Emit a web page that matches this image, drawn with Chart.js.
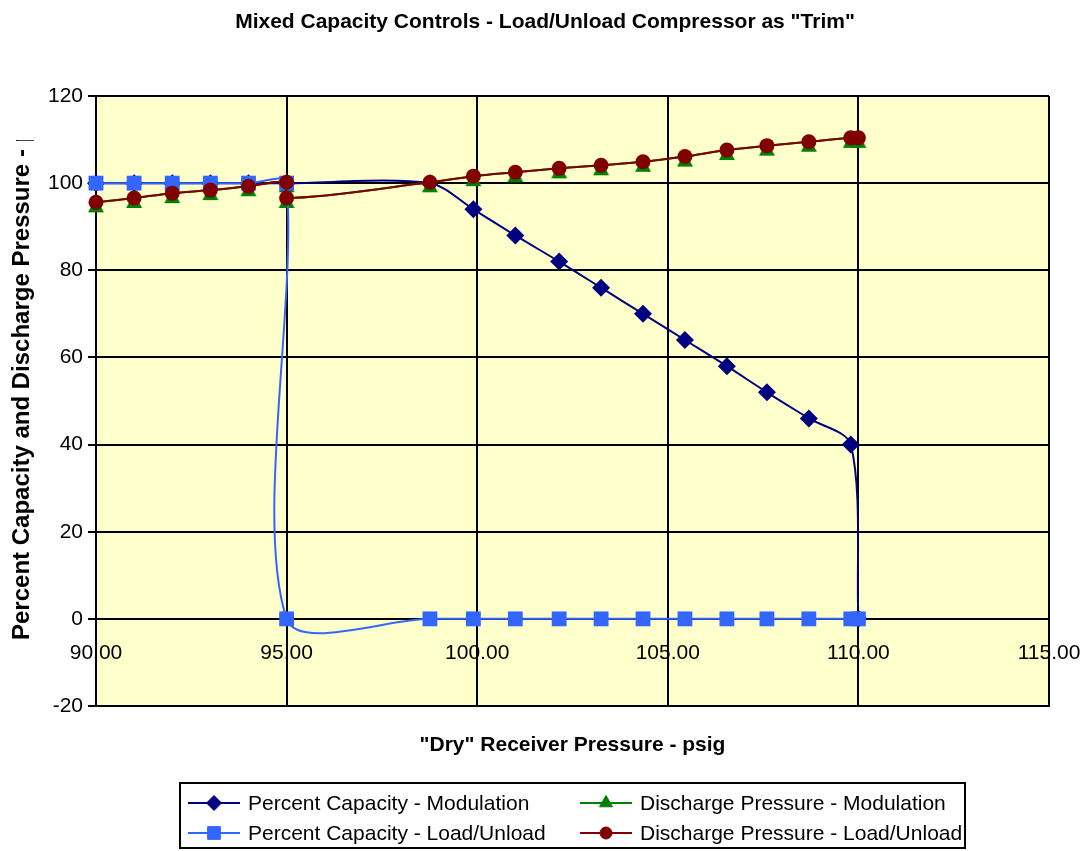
<!DOCTYPE html>
<html>
<head>
<meta charset="utf-8">
<script src="https://cdn.jsdelivr.net/npm/chart.js@4.4.1/dist/chart.umd.min.js"></script>
<style>
  html, body { margin: 0; padding: 0; background: #fff; }
</style>
</head>
<body>
<canvas id="trim-chart" width="1083" height="851"></canvas>
<script>
// x values (receiver pressure, psig)
const modCapX = [90, 91, 92, 93, 94, 95, 98.76, 99.9, 101.0, 102.15, 103.25, 104.35, 105.45, 106.55, 107.6, 108.7, 109.8, 110.0];
const pressureX = [90, 91, 92, 93, 94, 95, 95, 98.76, 99.9, 101.0, 102.15, 103.25, 104.35, 105.45, 106.55, 107.6, 108.7, 109.8, 110.0];

// series values
const modCapacity = [100, 100, 100, 100, 100, 100, 100, 94, 88, 82, 76, 70, 64, 58, 52, 46, 40, 0];
const luCapacity = [100, 100, 100, 100, 100, 100, 0, 0, 0, 0, 0, 0, 0, 0, 0, 0, 0, 0, 0];
const modDischarge = [95.6, 96.6, 97.7, 98.4, 99.3, 100.2, 96.6, 100.2, 101.6, 102.5, 103.4, 104.1, 104.9, 106.1, 107.6, 108.6, 109.5, 110.4, 110.4];
const luDischarge = [95.6, 96.6, 97.7, 98.4, 99.3, 100.2, 96.6, 100.2, 101.6, 102.5, 103.4, 104.1, 104.9, 106.1, 107.6, 108.6, 109.5, 110.4, 110.4];

// axis ticks
const xTicks = [90, 95, 100, 105, 110, 115];
const yTicks = [-20, 0, 20, 40, 60, 80, 100, 120];

const chartTitle = 'Mixed Capacity Controls - Load/Unload Compressor as "Trim"';
const xTitle = '"Dry" Receiver Pressure - psig';
const yTitle = 'Percent Capacity and Discharge Pressure - psig';

const FONT = "Arial, 'Liberation Sans', sans-serif";
Chart.defaults.font.family = FONT;
Chart.defaults.font.size = 21;
Chart.defaults.color = '#000';

function pts(xs, ys) {
  return xs.map((x, i) => ({ x: x, y: ys[i] }));
}

// Excel style triangle: sits low, so its base peeks out under the circles
function lowTriangle(color) {
  const c = document.createElement('canvas');
  c.width = 18;
  c.height = 26;
  const g = c.getContext('2d');
  g.fillStyle = color;
  g.beginPath();
  g.moveTo(9, 8);
  g.lineTo(17, 23);
  g.lineTo(1, 23);
  g.closePath();
  g.fill();
  return c;
}

const series = [
  { label: 'Percent Capacity - Modulation', xs: modCapX, ys: modCapacity, color: '#000080', style: 'rectRot', r: 9, order: 4 },
  { label: 'Discharge Pressure - Modulation', xs: pressureX, ys: modDischarge, color: '#008000', style: 'triangle', r: 9, order: 3 },
  { label: 'Percent Capacity - Load/Unload', xs: pressureX, ys: luCapacity, color: '#3366FF', style: 'rect', r: 10.5, order: 2 },
  { label: 'Discharge Pressure - Load/Unload', xs: pressureX, ys: luDischarge, color: '#800000', style: 'circle', r: 7.5, order: 1 }
];

// plot background + page background
const plotBg = {
  id: 'plotBg',
  beforeDraw(chart) {
    const { ctx, chartArea: a } = chart;
    ctx.save();
    ctx.fillStyle = '#fff';
    ctx.fillRect(0, 0, chart.width, chart.height);
    ctx.fillStyle = '#FFFFCC';
    ctx.fillRect(a.left, a.top, a.right - a.left, a.bottom - a.top);
    ctx.restore();
  }
};

// y title, cut off at the top like the original
const yTitlePlugin = {
  id: 'yTitlePlugin',
  afterDraw(chart) {
    const ctx = chart.ctx;
    ctx.save();
    ctx.beginPath();
    ctx.rect(0, 140, 60, chart.height - 140);
    ctx.clip();
    ctx.translate(22, 640);
    ctx.rotate(-Math.PI / 2);
    ctx.font = 'bold 24px ' + FONT;
    ctx.fillStyle = '#000';
    ctx.textAlign = 'left';
    ctx.textBaseline = 'middle';
    ctx.fillText(yTitle, 0, 0);
    ctx.restore();
  }
};

// boxed 2x2 legend
function marker(ctx, s, x, y) {
  if (Chart.helpers && Chart.helpers.drawPoint) {
    ctx.fillStyle = s.color;
    ctx.strokeStyle = s.color;
    ctx.lineWidth = 1;
    Chart.helpers.drawPoint(ctx, { pointStyle: s.style, rotation: 0, radius: s.r - 1.5, borderWidth: 1 }, x, y);
  }
}
const boxLegend = {
  id: 'boxLegend',
  afterDraw(chart) {
    const ctx = chart.ctx;
    ctx.save();
    ctx.strokeStyle = '#000';
    ctx.lineWidth = 2;
    ctx.strokeRect(180, 783, 785, 65);
    const cols = [188, 580];
    const rows = [803, 833];
    const place = [[0, 0], [1, 0], [0, 1], [1, 1]];
    series.forEach((s, i) => {
      const x0 = cols[place[i][0]];
      const y0 = rows[place[i][1]];
      ctx.strokeStyle = s.color;
      ctx.lineWidth = 2;
      ctx.beginPath();
      ctx.moveTo(x0, y0);
      ctx.lineTo(x0 + 52, y0);
      ctx.stroke();
      marker(ctx, s, x0 + 26, y0);
      ctx.fillStyle = '#000';
      ctx.font = '21px ' + FONT;
      ctx.textAlign = 'left';
      ctx.textBaseline = 'middle';
      ctx.fillText(s.label, x0 + 60, y0 + 1);
    });
    ctx.restore();
  }
};

const ctx = document.getElementById('trim-chart').getContext('2d');
const trimChart = new Chart(ctx, {
  type: 'scatter',
  data: {
    datasets: series.map(s => ({
      label: s.label,
      data: pts(s.xs, s.ys),
      showLine: true,
      borderColor: s.color,
      backgroundColor: s.color,
      borderWidth: 2,
      tension: 0.3,
      pointStyle: s.style === 'triangle' ? lowTriangle(s.color) : s.style,
      pointRadius: s.r,
      pointBorderWidth: 0,
      pointBackgroundColor: s.color,
      order: s.order,
      clip: false
    }))
  },
  options: {
    responsive: false,
    animation: false,
    devicePixelRatio: 1,
    layout: { padding: { left: 7, right: 0, top: 0, bottom: 93 } },
    plugins: {
      legend: { display: false },
      tooltip: { enabled: false },
      title: {
        display: true,
        text: chartTitle,
        color: '#000',
        font: { size: 21, weight: 'bold' },
        padding: { top: 10, bottom: 60.8 }
      }
    },
    scales: {
      x: {
        type: 'linear',
        position: 'bottom',
        min: xTicks[0],
        max: xTicks[xTicks.length - 1],
        afterBuildTicks(s) { s.ticks = xTicks.map(v => ({ value: v })); },
        ticks: { display: false },
        grid: { color: '#000', lineWidth: 2, drawTicks: false },
        border: { color: '#000', width: 2 },
        title: { display: true, text: xTitle, font: { size: 21, weight: 'bold' }, padding: 0 },
        afterFit(s) { s.height = 52; s.paddingLeft = 0; s.paddingRight = 0; }
      },
      x2: {
        type: 'linear',
        position: { y: 0 },
        min: xTicks[0],
        max: xTicks[xTicks.length - 1],
        afterBuildTicks(s) { s.ticks = xTicks.map(v => ({ value: v })); },
        ticks: { padding: 22, callback: v => Number(v).toFixed(2), maxRotation: 0 },
        grid: { display: false, drawTicks: false },
        border: { display: false },
        afterFit(s) { s.paddingLeft = 0; s.paddingRight = 0; }
      },
      y: {
        type: 'linear',
        min: yTicks[0],
        max: yTicks[yTicks.length - 1],
        afterBuildTicks(s) { s.ticks = yTicks.map(v => ({ value: v })); },
        ticks: { padding: 5 },
        grid: { color: '#000', lineWidth: 2, tickLength: 8 },
        border: { color: '#000', width: 2 },
        afterFit(s) { s.width = 89; }
      },
      yRight: {
        type: 'linear',
        position: 'right',
        display: true,
        min: yTicks[0],
        max: yTicks[yTicks.length - 1],
        ticks: { display: false },
        grid: { display: false, drawTicks: false },
        border: { display: false },
        afterFit(s) { s.width = 34; }
      }
    }
  },
  plugins: [plotBg, yTitlePlugin, boxLegend]
});
</script>
</body>
</html>
